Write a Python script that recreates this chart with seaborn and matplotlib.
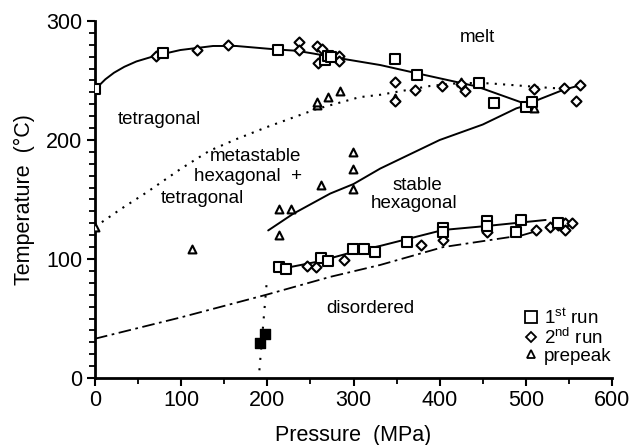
import matplotlib
matplotlib.use("Agg")
import matplotlib.pyplot as plt
import seaborn as sns
import pandas as pd
from matplotlib.ticker import MultipleLocator
from matplotlib.lines import Line2D

# ---------------- data ----------------
run1_p = [0, 79, 212, 267, 270, 274, 348, 374, 446, 463, 500, 507,
          214, 222, 262, 270, 299, 312, 325, 362, 404, 404, 455, 455, 489, 494, 537]
run1_t = [243, 273, 276, 267, 271, 270, 268, 255, 248, 231, 228, 232,
          93.5, 92, 101, 98, 108, 108, 106, 114, 126, 123, 132, 128, 123, 133, 130]

run2_p = [71, 118, 154, 237, 237, 258, 263, 259, 283, 283, 348, 348, 371, 403,
          425, 429, 510, 544, 563, 558,
          246, 257, 289, 378, 404, 455, 512, 528, 537, 545, 545, 554]
run2_t = [271, 276, 280, 282, 276, 279, 276.5, 264.5, 270.6, 266.4, 249, 233, 242, 245,
          247, 241.4, 242.8, 243.4, 246, 232.4,
          94, 93, 99, 112, 116, 123, 124, 126.6, 128.6, 130.5, 124.4, 130.5]

pre_p = [0, 112, 214, 228, 214, 262, 299, 299, 299, 258, 258, 270, 284, 348, 425, 510]
pre_t = [127, 108, 142, 142, 120, 162, 190, 176, 158.6, 229, 232, 236, 241, 235, 249, 227]

solid_p = [191, 197]
solid_t = [29, 37]

melt_p = [0, 5, 12, 22, 34, 48, 71, 99, 137, 164, 212, 234, 253, 292, 331, 374, 443, 501, 543, 563]
melt_t = [243, 246, 251, 256.5, 261.5, 266, 271, 275.6, 279, 279, 276, 275, 272.7, 267.7, 263, 256, 245, 230, 242, 246]

meta_p = [0, 30, 60, 100, 133, 165, 200, 257, 307, 331, 389, 425, 458, 524, 545]
meta_t = [127, 142, 156, 176, 191, 201, 211, 226, 236, 238, 245.4, 248, 247.6, 244, 243]

hex_p = [201, 230, 273, 300, 331, 377, 400, 450, 489, 500]
hex_t = [124, 138, 155, 163, 176, 192, 200, 213, 226.6, 229]

order_p = [225, 260, 300, 331, 404, 454, 523]
order_t = [93, 98, 106, 111, 124.4, 127.7, 132.8]

dis_p = [0, 100, 199, 273, 331, 404, 496, 515]
dis_t = [33, 51, 70, 85, 95, 110, 120, 124]

vert_p = [199, 190.5]
vert_t = [78, 4]

# ---------------- style ----------------
sns.set_style("ticks")
plt.rcParams['font.family'] = ['Liberation Sans', 'DejaVu Sans']
plt.rcParams['mathtext.fontset'] = 'custom'
plt.rcParams['mathtext.rm'] = 'Liberation Sans'
plt.rcParams['mathtext.it'] = 'Liberation Sans'
plt.rcParams['text.color'] = 'black'
plt.rcParams['axes.labelcolor'] = 'black'
plt.rcParams['xtick.color'] = 'black'
plt.rcParams['ytick.color'] = 'black'

fig = plt.figure(figsize=(6.31, 4.45), dpi=100)
ax = fig.add_axes([95 / 631, 67 / 445, 517 / 631, 357 / 445])

def curve(p, t, ls, lw=1.4):
    sns.lineplot(x=p, y=t, sort=False, estimator=None, color='black', lw=lw, ax=ax)
    ax.lines[-1].set_linestyle(ls)

curve(melt_p, melt_t, '-')
curve(meta_p, meta_t, (0, (1, 3)), lw=1.5)
curve(hex_p, hex_t, '-')
curve(order_p, order_t, '-')
curve(dis_p, dis_t, (0, (7, 2.5, 1.5, 2.5)), lw=1.3)
curve(vert_p, vert_t, (0, (1, 4)), lw=1.5)

kw = dict(facecolor='white', edgecolor='black', linewidth=1.5, ax=ax, zorder=3)
sns.scatterplot(x=pre_p, y=pre_t, marker='^', s=32, **kw)
sns.scatterplot(x=run2_p, y=run2_t, marker='D', s=26, **kw)
sns.scatterplot(x=run1_p, y=run1_t, marker='s', s=52, **kw)
sns.scatterplot(x=solid_p, y=solid_t, marker='s', s=52, facecolor='black',
                edgecolor='black', linewidth=1.0, ax=ax, zorder=3)

# ---------------- axes ----------------
ax.set_xlim(0, 600)
ax.set_ylim(0, 300)
ax.xaxis.set_major_locator(MultipleLocator(100))
ax.xaxis.set_minor_locator(MultipleLocator(50))
ax.yaxis.set_major_locator(MultipleLocator(100))
ax.yaxis.set_minor_locator(MultipleLocator(10))
ax.tick_params(which='major', length=6, width=1.5, labelsize=15.5, pad=3)
ax.tick_params(which='minor', length=4, width=1.3)
for s in ['top', 'right']:
    ax.spines[s].set_visible(False)
for s in ['left', 'bottom']:
    ax.spines[s].set_linewidth(2)
    ax.spines[s].set_color('black')

ax.set_xlabel('Pressure  (MPa)', fontsize=15.5, labelpad=10)
ax.set_ylabel('Temperature  (°C)', fontsize=15.5, labelpad=8)

# ---------------- region labels ----------------
tk = dict(fontsize=13.5, ha='center', va='center', color='black')
ax.text(444, 286, 'melt', **tk)
ax.text(75, 217, 'tetragonal', **tk)
ax.text(186, 186, 'metastable', **tk)
ax.text(177, 169, 'hexagonal  +', **tk)
ax.text(125, 151, 'tetragonal', **tk)
ax.text(374, 162, 'stable', **tk)
ax.text(370, 147, 'hexagonal', **tk)
ax.text(319, 58, 'disordered', **tk)

# ---------------- legend ----------------
handles = [
    Line2D([], [], ls='none', marker='s', ms=8, mfc='white', mec='black', mew=1.3),
    Line2D([], [], ls='none', marker='D', ms=5, mfc='white', mec='black', mew=1.3),
    Line2D([], [], ls='none', marker='^', ms=5.5, mfc='white', mec='black', mew=1.3),
]
labels = [r'1$^{\mathrm{st}}$ run', r'2$^{\mathrm{nd}}$ run', 'prepeak']
ax.legend(handles, labels, loc='lower right', bbox_to_anchor=(1.025, 0.0),
          frameon=False, fontsize=13.5, handlelength=0.8, handletextpad=0.3,
          labelspacing=0.0, borderpad=0.2)

fig.savefig('out.png', dpi=100)
